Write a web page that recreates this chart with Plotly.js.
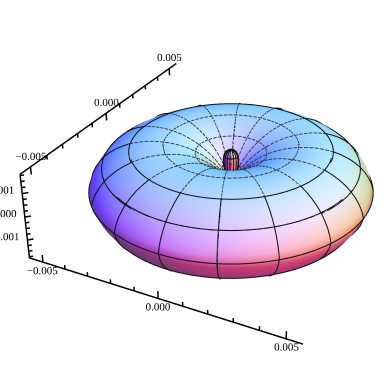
<!DOCTYPE html><html><head><meta charset="utf-8"><script src="https://cdn.plot.ly/plotly-3.0.1.min.js"></script>
<style>html,body{margin:0;background:#fff;overflow:hidden;width:385px;height:369px}#d{position:absolute;left:-230px;top:-257px;width:922px;height:883px}</style></head><body><div id="d"></div><script>
// all lengths below are in units of 0.001
var polarStepDeg = 2.8125;
var upperRadius = [1.5,1.49,1.46,1.40,1.30,1.15,0.93,0.68,0.38,0.10,0.22,0.46,0.78,1.07,1.36,1.66,1.95,2.24,2.53,2.81,3.09,3.37,3.65,3.91,4.17,4.40,4.62,4.82,5.00,5.15,5.28,5.38,5.45];
var meridianStepDeg = 22.5, azimuthStepDeg = 3.75, ringEvery = 4;
var xTickValues = [-5,-4,-3,-2,-1,0,1,2,3,4,5];
var xMajorTicks = [-5,0,5];
var zTickValues = [-1.75,-1.5,-1.25,-1,-0.75,-0.5,-0.25,0,0.25,0.5,0.75,1,1.25,1.5,1.75];
var zMajorTicks = [-1,0,1];
var xLabels = ['\u22120.005','0.000','0.005'];
var zLabels = ['\u22120.001','0.000','0.001'];
var boxR = 5.62, boxZ = 1.8;
var eye = [16.46,-31.78,20.51];
var ambient = [0.38,0.22,0.45];
var lights = [{c:[0.62,0,0],d:[0.9,-0.15,1.6]},{c:[0,0.72,0],d:[1.2,1.5,1.6]},{c:[0,0,0.75],d:[-0.5,1.5,1.5]}];

function norm(v){var n=Math.hypot(v[0],v[1],v[2])||1;return [v[0]/n,v[1]/n,v[2]/n];}
function cross(a,b){return [a[1]*b[2]-a[2]*b[1],a[2]*b[0]-a[0]*b[2],a[0]*b[1]-a[1]*b[0]];}
function dot(a,b){return a[0]*b[0]+a[1]*b[1]+a[2]*b[2];}
var back = norm(eye), fwd=[-back[0],-back[1],-back[2]], right = norm(cross(fwd,[0,0,1])), up = cross(right,fwd);
var worldLights = lights.map(function(l){var d=norm(l.d);return {c:l.c,d:[0,1,2].map(function(i){return d[0]*right[i]+d[1]*up[i]+d[2]*back[i];})};});

var radius = upperRadius.concat(upperRadius.slice(0,-1).reverse());
var nT = radius.length, nA = Math.round(360/azimuthStepDeg);
function P(it,ia){var t=it*polarStepDeg*Math.PI/180,a=ia*azimuthStepDeg*Math.PI/180,r=radius[it];
  return [r*Math.sin(t)*Math.cos(a),r*Math.sin(t)*Math.sin(a),r*Math.cos(t)];}
var X=[],Y=[],Z=[],C=[],I=[],J=[],K=[];
for(var it=0;it<nT;it++)for(var ia=0;ia<nA;ia++){
  var p=P(it,ia);X.push(p[0]);Y.push(p[1]);Z.push(p[2]);
  var a=P(Math.min(it+1,nT-1),ia),b=P(Math.max(it-1,0),ia),c=P(it,(ia+1)%nA),d=P(it,(ia+nA-1)%nA);
  var n;
  if(it==0||it==nT-1){n=[0,0,it==0?1:-1];}
  else{n=norm(cross([a[0]-b[0],a[1]-b[1],a[2]-b[2]],[c[0]-d[0],c[1]-d[1],c[2]-d[2]]));}
  var col=ambient.slice();
  worldLights.forEach(function(l){var q=Math.max(0,dot(n,l.d));for(var m=0;m<3;m++)col[m]+=l.c[m]*q;});
  C.push('rgb('+col.map(function(v){return Math.round(255*Math.min(1,v));}).join(',')+')');
}
for(it=0;it<nT-1;it++)for(ia=0;ia<nA;ia++){
  var p0=it*nA+ia,p1=it*nA+(ia+1)%nA,p2=(it+1)*nA+ia,p3=(it+1)*nA+(ia+1)%nA;
  I.push(p0,p1);J.push(p2,p2);K.push(p1,p3);
}
var solid={x:[],y:[],z:[]},inner={x:[],y:[],z:[]};
function add(o,p){o.x.push(p[0]);o.y.push(p[1]);o.z.push(p[2]);}
function brk(o){o.x.push(null);o.y.push(null);o.z.push(null);}
// the far, inner part of the mesh is drawn with short dashes, walked along each polyline
var dashOn=0.15,dashOff=0.05;
function dashed(o,pts){var on=true,left=dashOn;add(o,pts[0]);
  for(var i=0;i<pts.length-1;i++){var s=pts[i],e=pts[i+1],L=Math.hypot(e[0]-s[0],e[1]-s[1],e[2]-s[2]),done=0;
    while(L-done>left){done+=left;var f=done/L,q=[s[0]+(e[0]-s[0])*f,s[1]+(e[1]-s[1])*f,s[2]+(e[2]-s[2])*f];
      if(on){add(o,q);brk(o);on=false;left=dashOff;}else{add(o,q);on=true;left=dashOn;}}
    left-=L-done; if(on)add(o,e);}
  brk(o);}
var innerFrom=8,innerTo=24;
for(it=ringEvery;it<nT-1;it+=ringEvery){var pts=[];for(ia=0;ia<=nA;ia++)pts.push(P(it,ia%nA));
  if(it>innerFrom&&it<innerTo)dashed(inner,pts);else{pts.forEach(function(q){add(solid,q);});brk(solid);}}
var mStep=Math.round(meridianStepDeg/azimuthStepDeg);
for(ia=0;ia<nA;ia+=mStep){
  for(it=0;it<=innerFrom;it++)add(solid,P(it,ia));brk(solid);
  var mp=[];for(it=innerFrom;it<=innerTo;it++)mp.push(P(it,ia));dashed(inner,mp);
  for(it=innerTo;it<nT;it++)add(solid,P(it,ia));brk(solid);
}

var ax=[],ay=[],az=[];
function seg(a,b){ax.push(a[0],b[0],null);ay.push(a[1],b[1],null);az.push(a[2],b[2],null);}
seg([-boxR,-boxR,-boxZ],[boxR,-boxR,-boxZ]);
seg([-boxR,-boxR,boxZ],[-boxR,boxR,boxZ]);
seg([-boxR,-boxR,-boxZ],[-boxR,-boxR,boxZ]);
xTickValues.forEach(function(v){var l=xMajorTicks.indexOf(v)>=0?0.32:0.18;
  seg([v,-boxR,-boxZ],[v,-boxR,-boxZ+l]);seg([-boxR,v,boxZ],[-boxR,v,boxZ-l]);});
zTickValues.forEach(function(v){var l=zMajorTicks.indexOf(v)>=0?0.16:0.1;
  seg([-boxR,-boxR,v],[-boxR+l,-boxR+l,v]);});

var font={family:'"Liberation Serif",serif',size:11,color:'#000'};
function rep(v,n){var o=[];for(var i=0;i<n;i++)o.push(v);return o;}
var traces=[
 {type:'mesh3d',x:X,y:Y,z:Z,i:I,j:J,k:K,vertexcolor:C,flatshading:false,lighting:{ambient:1,diffuse:0,specular:0,roughness:1,fresnel:0},hoverinfo:'skip',showscale:false},
 {type:'scatter3d',mode:'lines',x:solid.x,y:solid.y,z:solid.z,line:{color:'#111',width:4},hoverinfo:'skip'},
 {type:'scatter3d',mode:'lines',x:inner.x,y:inner.y,z:inner.z,line:{color:'#333',width:3.5},hoverinfo:'skip'},
 {type:'scatter3d',mode:'lines',x:ax,y:ay,z:az,line:{color:'#000',width:3},hoverinfo:'skip'},
 {type:'scatter3d',mode:'text',x:xMajorTicks,y:rep(-boxR,3),z:rep(-boxZ+0.27,3),text:xLabels,textposition:'bottom center',textfont:font,hoverinfo:'skip'},
 {type:'scatter3d',mode:'text',x:rep(-boxR,3),y:xMajorTicks,z:rep(boxZ-0.17,3),text:xLabels,textposition:'top center',textfont:font,hoverinfo:'skip'},
 {type:'scatter3d',mode:'text',x:rep(-boxR+0.07,3),y:rep(-boxR+0.07,3),z:zMajorTicks.map(function(v){return v+0.13;}),text:zLabels,textposition:'middle left',textfont:font,hoverinfo:'skip'}
];
function axis(r){return {visible:false,range:r};}
var s=2*boxR;
Plotly.newPlot('d',traces,{width:922,height:883,margin:{l:0,r:0,t:0,b:0,pad:0},paper_bgcolor:'#fff',showlegend:false,
 scene:{aspectmode:'manual',aspectratio:{x:1,y:1,z:boxZ/boxR},xaxis:axis([-boxR,boxR]),yaxis:axis([-boxR,boxR]),zaxis:axis([-boxZ,boxZ]),
  camera:{eye:{x:eye[0]/s,y:eye[1]/s,z:eye[2]/s},center:{x:0,y:0,z:0},up:{x:0,y:0,z:1}}}},{displayModeBar:false});
</script></body></html>
